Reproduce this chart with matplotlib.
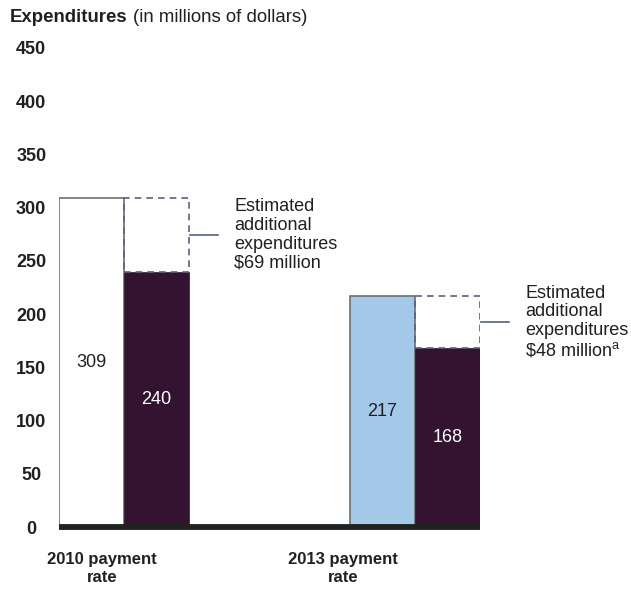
import matplotlib
matplotlib.use("Agg")
import matplotlib.pyplot as plt

plt.rcParams["font.family"] = ["Liberation Sans", "DejaVu Sans"]
plt.rcParams["mathtext.fontset"] = "custom"
plt.rcParams["mathtext.rm"] = "Liberation Sans"

# ---- data ----
groups = ["2010 payment\nrate", "2013 payment\nrate"]
current = [309, 217]          # first bar of each group
reduced = [240, 168]          # second (dark) bar
extra_notes = ["Estimated\nadditional\nexpenditures\n\\$69 million",
               "Estimated\nadditional\nexpenditures\n\\$48 million$^{\\mathrm{a}}$"]
yticks = [0, 50, 100, 150, 200, 250, 300, 350, 400, 450]

INK = "#231f20"
DARK = "#331330"
BLUE = "#a4c8e8"
DASH = "#56627e"
W = 65 / 291                  # bar width in group-spacing units

fig = plt.figure(figsize=(6.31, 5.89), dpi=100)
ax = fig.add_axes([59 / 631, 62 / 589, 421 / 631, 479 / 589])

first_cols = ["white", BLUE]
for i, (c, r) in enumerate(zip(current, reduced)):
    ax.bar(i - W / 2, c, width=W, color=first_cols[i], edgecolor="#6e6e6e", lw=1.2, zorder=2)
    ax.bar(i + W / 2, r, width=W, color=DARK, edgecolor=DARK, lw=0.5, zorder=2)
    ax.bar(i + W / 2, c - r, bottom=r, width=W, fill=False, edgecolor=DASH,
           lw=1.2, ls=(0, (4, 3)), zorder=3)
    ax.text(i - W / 2, c / 2, str(c), ha="center", va="center", fontsize=13, color=INK, zorder=4)
    ax.text(i + W / 2, r / 2, str(r), ha="center", va="center", fontsize=13, color="white", zorder=4)
    mid = (c + r) / 2
    ax.plot([i + W + 0.005, i + W + 0.1], [mid, mid], color=DASH, lw=1.2, clip_on=False)
    ax.text(i + W + 0.155, mid, extra_notes[i], ha="left", va="center", fontsize=13,
            color=INK, linespacing=1.12, clip_on=False)

ax.axhline(0, color="#1e231e", lw=4.2, zorder=5, clip_on=False, solid_capstyle="butt")
ax.set_xlim(-W, 1 + W)
ax.set_ylim(0, 450)
ax.set_yticks(yticks)
ax.set_yticklabels([str(t) for t in yticks], fontsize=13, fontweight="bold", color=INK)
for lab in ax.get_yticklabels():
    lab.set_horizontalalignment("center")
ax.tick_params(axis="y", length=0, pad=20)
ax.set_xticks([-22 / 291, 219 / 291])
ax.set_xticklabels(groups, fontsize=12, fontweight="bold", color=INK, linespacing=1.25)
ax.tick_params(axis="x", length=0, pad=18)
for s in ax.spines.values():
    s.set_visible(False)

t1 = fig.text(10 / 631, 1 - 18 / 589, "Expenditures", fontsize=13.4, fontweight="bold",
              color=INK, va="center")
fig.canvas.draw()
ax.annotate("(in millions of dollars)", xy=(1, 0), xycoords=t1, xytext=(4, 0),
            textcoords="offset points", va="bottom",
            fontsize=13.4, color=INK, annotation_clip=False)

fig.savefig("out.png", dpi=100)
